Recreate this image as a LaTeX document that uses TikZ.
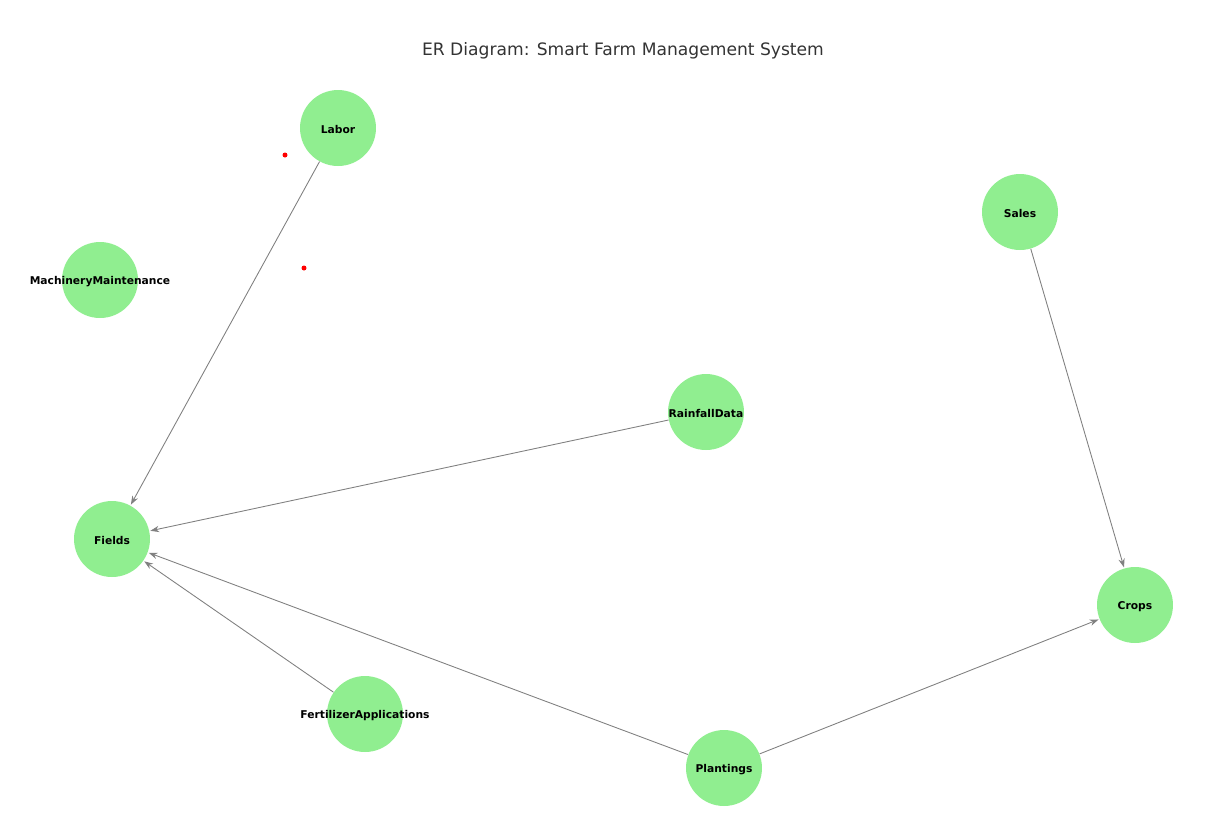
\documentclass[tikz,border=0pt]{standalone}
\usepackage{fontspec}
\setmainfont{DejaVu Sans}
\usetikzlibrary{arrows.meta}
\definecolor{nodegreen}{HTML}{90EE90}
\definecolor{titlegray}{HTML}{333333}
\tikzset{
	entity/.style={circle, fill=nodegreen, minimum size=1.52cm, inner sep=0pt},
	tag/.style={font=\bfseries\fontsize{6.1}{7}\selectfont, inner sep=0pt, yshift=-0.9pt},
	rel/.style={draw=gray, line width=0.5pt, -{Stealth[length=5pt, width=3.6pt]}, shorten >=0.5pt},
	reddot/.style={fill=red, draw=none}
}

\begin{document}
\begin{tikzpicture}[x=0.02cm, y=-0.02cm]
			%%%%% START %%%%%
			
			\useasboundingbox (0, 0) rectangle (1232, 823);
			
			\node[color=titlegray, font=\fontsize{9.75}{11}\selectfont] (title) at (623, 51) {ER Diagram: Smart Farm Management System};
			
			\node[entity] (labor) at (338, 128) {};
			\node[entity] (sales) at (1020, 212) {};
			\node[entity] (machinery) at (100, 280) {};
			\node[entity] (rainfall) at (706, 412) {};
			\node[entity] (fields) at (112, 539) {};
			\node[entity] (crops) at (1135, 605) {};
			\node[entity] (fertilizer) at (365, 714) {};
			\node[entity] (plantings) at (724, 768) {};
			
			\node[tag] (labortext) at (labor) {Labor};
			\node[tag] (salestext) at (sales) {Sales};
			\node[tag] (machinerytext) at (machinery) {MachineryMaintenance};
			\node[tag] (rainfalltext) at (rainfall) {RainfallData};
			\node[tag] (fieldstext) at (fields) {Fields};
			\node[tag] (cropstext) at (crops) {Crops};
			\node[tag] (fertilizertext) at (fertilizer) {FertilizerApplications};
			\node[tag] (plantingstext) at (plantings) {Plantings};
			
			\draw[rel] (labor) -- (fields);
			\draw[rel] (rainfall) -- (fields);
			\draw[rel] (plantings) -- (fields);
			\draw[rel] (fertilizer) -- (fields);
			\draw[rel] (sales) -- (crops);
			\draw[rel] (plantings) -- (crops);
			
			\fill[reddot] (285, 155) circle (2.5);
			\fill[reddot] (304, 268) circle (2.5);
			
			%%%%% END %%%%%
\end{tikzpicture}
\end{document}
